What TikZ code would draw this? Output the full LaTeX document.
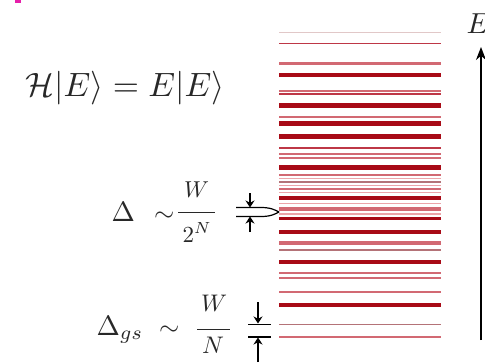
\documentclass[tikz,border=0pt]{standalone}
\usetikzlibrary{arrows.meta}
\definecolor{dred}{RGB}{168,10,22}
\definecolor{mred}{RGB}{190,55,70}
\definecolor{pred}{RGB}{210,105,115}
\definecolor{lpink}{RGB}{236,165,170}
\definecolor{gred}{RGB}{180,115,120}
\definecolor{fpink}{RGB}{225,200,200}
\definecolor{txt}{RGB}{40,40,40}
\definecolor{mag}{RGB}{230,30,170}
\tikzset{
  lbl/.style={inner sep=0pt, text=txt},
  gaparrow/.style={-{Stealth[length=7pt,width=9pt]}, line width=1.2pt, black},
  bar/.style={line width=1.2pt, black},
  fracbar/.style={line width=1pt, txt},
}
\begin{document}
\begin{tikzpicture}[x=1pt,y=-1pt]
\useasboundingbox (0,0) rectangle (485,362);
\fill[white] (0,0) rectangle (485,362);
\fill[mag] (15,0) rectangle (21,2.5);
% energy levels
\foreach \yy/\ww/\cc in {32/1.0/fpink,43.5/1.6/mred,63.5/2.2/pred,75/3.2/dred,91/2.2/pred,94/1.4/mred,
  105.5/4.5/dred,117/1.8/pred,123.5/4.5/dred,136.5/4.5/dred,148/2.5/mred,154/2/pred,157.5/2/pred,
  167.5/5/dred,175/1.5/pred,178.5/1.5/lpink,182/1.5/gred,185.5/1.5/lpink,189/2/pred,192.5/1.5/lpink,
  198/4.5/dred,203.5/1.5/lpink,209/4/pred,214/1.2/lpink,218/3/dred,232/4.5/dred,243/3.5/pred,
  250/1.5/gred,262/4.5/dred,273/2/pred,277.5/2/pred,292/2.5/pred,305/3.5/dred,324.5/1.4/gred,337/1.4/pred}
  \draw[line width=\ww pt, \cc] (279,\yy) -- (441,\yy);
% energy axis
\coordinate (axb) at (481,340);
\coordinate (axt) at (481,47);
\draw[-{Stealth[length=13pt,width=10pt]}, line width=1.3pt] (axb) -- (axt);
\node[lbl, anchor=base west, scale=2.9] (E) at (466,33) {$E$};
% equation
\node[lbl, scale=3.37] (eq) at (125,88.5) {$\mathcal{H}|E\rangle = E|E\rangle$};
% Delta level spacing
\node[lbl, anchor=base west, scale=2.8] (d1) at (111,221) {$\Delta$};
\node[lbl, anchor=base west, scale=2.6] (s1) at (153.5,221) {$\sim$};
\node[lbl, anchor=base, scale=2.3] (w1) at (196.5,197) {$W$};
\draw[fracbar] (178,212.7) -- (215,212.7);
\node[lbl, anchor=base, scale=2.3] (n1) at (197,242) {$2^{N}$};
\coordinate (a1t) at (250,193);
\coordinate (a1tb) at (250,207.5);
\coordinate (a1b) at (250,232);
\coordinate (a1bb) at (250,216.5);
\draw[gaparrow] (a1t) -- (a1tb);
\draw[gaparrow] (a1b) -- (a1bb);
\coordinate (tip) at (279,212);
\draw[bar] (236,207.5) -- (261,207.5) .. controls (271,207.5) and (275,210) .. (tip);
\draw[bar] (236,216.5) -- (261,216.5) .. controls (271,216.5) and (275,214) .. (tip);
% Delta gs
\node[lbl, anchor=base west, scale=2.8] (d2) at (96,335) {$\Delta_{gs}$};
\node[lbl, anchor=base west, scale=2.6] (s2) at (158.5,335) {$\sim$};
\node[lbl, anchor=base, scale=2.4] (w2) at (214,311) {$W$};
\draw[fracbar] (197,329.3) -- (230,329.3);
\node[lbl, anchor=base, scale=2.4] (n2) at (213,353) {$N$};
\coordinate (a2t) at (258,302);
\coordinate (a2tb) at (258,323.5);
\coordinate (a2b) at (258,362);
\coordinate (a2bb) at (258,337.5);
\draw[gaparrow] (a2t) -- (a2tb);
\draw[gaparrow] (a2b) -- (a2bb);
\draw[bar] (248,324.5) -- (271,324.5);
\draw[bar] (248,337) -- (271,337);
\end{tikzpicture}
\end{document}
